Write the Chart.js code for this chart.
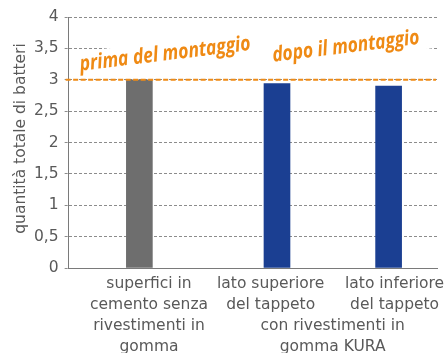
<!DOCTYPE html>
<html>
<head>
<meta charset="utf-8">
<script src="https://cdn.jsdelivr.net/npm/chart.js@4.4.1/dist/chart.umd.min.js"></script>
<style>
  html, body { margin: 0; padding: 0; background: #fff; }
  canvas { display: block; }
</style>
</head>
<body>
<canvas id="batteri" width="447" height="353"></canvas>
<script>
// categorie sull'asse x (una riga per elemento)
const categorie = [
    ['superfici in', 'cemento senza', 'rivestimenti in', 'gomma'],
    ['lato superiore', 'del tappeto'],
    ['lato inferiore', 'del tappeto']
];
const gruppoKura = ['con rivestimenti in', 'gomma KURA'];

// quantità totale di batteri
const senzaRivestimento = [3.0, null, null];
const conKura = [null, 2.94, 2.90];

const etichetteY = ['0', '0,5', '1', '1,5', '2', '2,5', '3', '3,5', '4'];
const titoloY = 'quantità totale di batteri';
const sogliaPrima = 3;
const note = ['prima del montaggio', 'dopo il montaggio'];

const GRIGIO_TESTO = '#595959';
const FONT = 'DejaVu Sans, Verdana, sans-serif';
const FONT_NOTE = 'italic bold 21px "Open Sans", sans-serif';
const ARANCIO = '#ef8a14';

const punti = valori => valori.map((v, i) => ({ x: i, y: v }));

// posizione (valori sugli assi) e larghezza delle scritte
const posNote = [[0.12, 3.31, 172], [1.74, 3.43, 148]];
// centro delle etichette delle categorie, in valori dell'asse x
const posEtichette = [-0.03, 1.06, 2.17];

// etichette dell'asse x, titolo y, linea di riferimento e scritte a mano
const decorazioni = {
    id: 'decorazioni',
    beforeDatasetsDraw(chart) {
        const { ctx } = chart;
        const xs = chart.scales.x, ys = chart.scales.y;
        // riquadri bianchi dietro le scritte
        ctx.save();
        ctx.fillStyle = '#fff';
        posNote.forEach(([vx, vy, w]) => {
            ctx.save();
            ctx.translate(xs.getPixelForValue(vx), ys.getPixelForValue(vy));
            ctx.rotate(-0.122);
            ctx.fillRect(-w / 2 - 8, -19, w + 30, 25);
            ctx.restore();
        });
        ctx.restore();
    },
    afterDatasetsDraw(chart) {
        const { ctx, chartArea } = chart;
        const xs = chart.scales.x, ys = chart.scales.y;

        // linea tratteggiata a quota 3
        const yS = ys.getPixelForValue(sogliaPrima);
        ctx.save();
        ctx.strokeStyle = ARANCIO;
        ctx.lineWidth = 2.2;
        ctx.setLineDash([5, 2.5]);
        ctx.beginPath();
        ctx.moveTo(chartArea.left - 3, yS);
        ctx.lineTo(chartArea.right - 1, yS);
        ctx.stroke();
        ctx.restore();

        // scritte "prima" / "dopo", strette in orizzontale
        ctx.save();
        ctx.fillStyle = ARANCIO;
        ctx.textAlign = 'center';
        ctx.textBaseline = 'alphabetic';
        ctx.font = FONT_NOTE;
        note.forEach((testo, i) => {
            const [vx, vy, w] = posNote[i];
            const sx = w / ctx.measureText(testo).width;
            ctx.save();
            ctx.translate(xs.getPixelForValue(vx), ys.getPixelForValue(vy));
            ctx.rotate(-0.122);
            ctx.scale(sx, 1);
            ctx.fillText(testo, 0, 0);
            ctx.restore();
        });
        ctx.restore();
    },
    afterDraw(chart) {
        const { ctx, chartArea } = chart;
        const xs = chart.scales.x;
        ctx.save();
        ctx.font = '15.5px ' + FONT;
        ctx.fillStyle = GRIGIO_TESTO;
        ctx.textAlign = 'center';
        ctx.textBaseline = 'middle';

        // titolo dell'asse y
        ctx.save();
        ctx.translate(21, (chartArea.top + chartArea.bottom) / 2 - 4);
        ctx.rotate(-Math.PI / 2);
        ctx.fillText(titoloY, 0, 0);
        ctx.restore();

        const passo = 21;
        const y0 = chartArea.bottom + 16;
        const centri = categorie.map((righe, i) => {
            const cx = xs.getPixelForValue(posEtichette[i]);
            righe.forEach((r, k) => ctx.fillText(r, cx, y0 + k * passo));
            return cx;
        });
        const cg = (centri[1] + centri[2]) / 2;
        gruppoKura.forEach((r, k) => ctx.fillText(r, cg, y0 + (2 + k) * passo));
        ctx.restore();
    }
};

new Chart(document.getElementById('batteri'), {
    type: 'bar',
    data: {
        datasets: [
            {
                label: 'senza rivestimenti',
                data: punti(senzaRivestimento),
                backgroundColor: '#6e6e6e',
                barThickness: 26
            },
            {
                label: 'gomma KURA',
                data: punti(conKura),
                backgroundColor: '#1b3f92',
                barThickness: 26
            }
        ]
    },
    options: {
        responsive: false,
        animation: false,
        layout: { padding: { top: 17, right: 10, bottom: 85, left: 28 } },
        plugins: {
            legend: { display: false },
            tooltip: { enabled: false }
        },
        scales: {
            x: {
                type: 'linear',
                offset: false,
                min: -0.75,
                max: 2.55,
                ticks: { display: false },
                grid: { display: false, drawTicks: false },
                border: { color: '#7a7a7a', width: 1 }
            },
            y: {
                min: 0,
                max: 4,
                ticks: {
                    stepSize: 0.5,
                    color: GRIGIO_TESTO,
                    padding: 6,
                    font: { family: FONT, size: 15.5 },
                    callback: (v, i) => etichetteY[i]
                },
                grid: {
                    color: '#8c8c8c',
                    tickLength: 4,
                    tickBorderDash: [3, 2]
                },
                border: { color: '#7a7a7a', width: 1, dash: [3, 2] }
            }
        }
    },
    plugins: [decorazioni]
});
</script>
</body>
</html>
